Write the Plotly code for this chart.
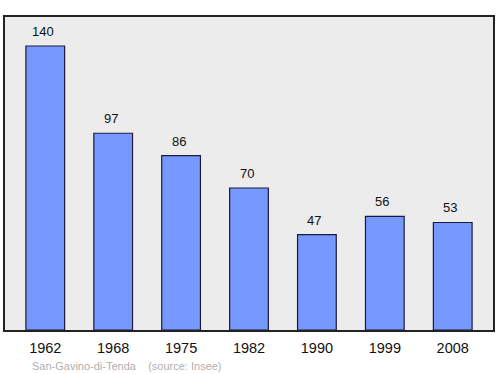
import plotly.graph_objects as go

years = ["1962", "1968", "1975", "1982", "1990", "1999", "2008"]
population = [140, 97, 86, 70, 47, 56, 53]

fig = go.Figure()
fig.add_trace(go.Bar(
    x=years, y=population, width=0.57,
    marker=dict(color="#7799ff", line=dict(color="#1a1a3a", width=1.2)),
    hoverinfo="skip",
))
annotations = [dict(x=i, y=v, xref="x", yref="y", text=str(v), showarrow=False,
                    yanchor="bottom", yshift=5, xshift=-2.5,
                    font=dict(size=13, color="#111"))
               for i, v in enumerate(population)]
annotations.append(dict(text="San-Gavino-di-Tenda &nbsp;&nbsp; (source: Insee)",
                        xref="paper", yref="paper", x=(30-5)/490, y=-(366-330)/313,
                        xanchor="left", yanchor="middle", showarrow=False,
                        font=dict(size=11, color="#b0b0b0")))
fig.update_layout(
    width=500, height=374,
    margin=dict(l=5, r=5, t=17, b=44),
    paper_bgcolor="white", plot_bgcolor="#ececec",
    showlegend=False,
    font=dict(family="Liberation Sans, Arial, sans-serif"),
    xaxis=dict(type="category", range=[-0.593, 6.593], showgrid=False,
               showline=True, linecolor="#222", linewidth=1.5, mirror=True,
               ticks="", ticklabelstandoff=4, tickfont=dict(size=14.5, color="#111")),
    yaxis=dict(range=[0, 154.3], showgrid=False, showticklabels=False, zeroline=False,
               showline=True, linecolor="#222", linewidth=1.5, mirror=True, ticks=""),
    annotations=annotations,
)
fig.write_html("out.html")
